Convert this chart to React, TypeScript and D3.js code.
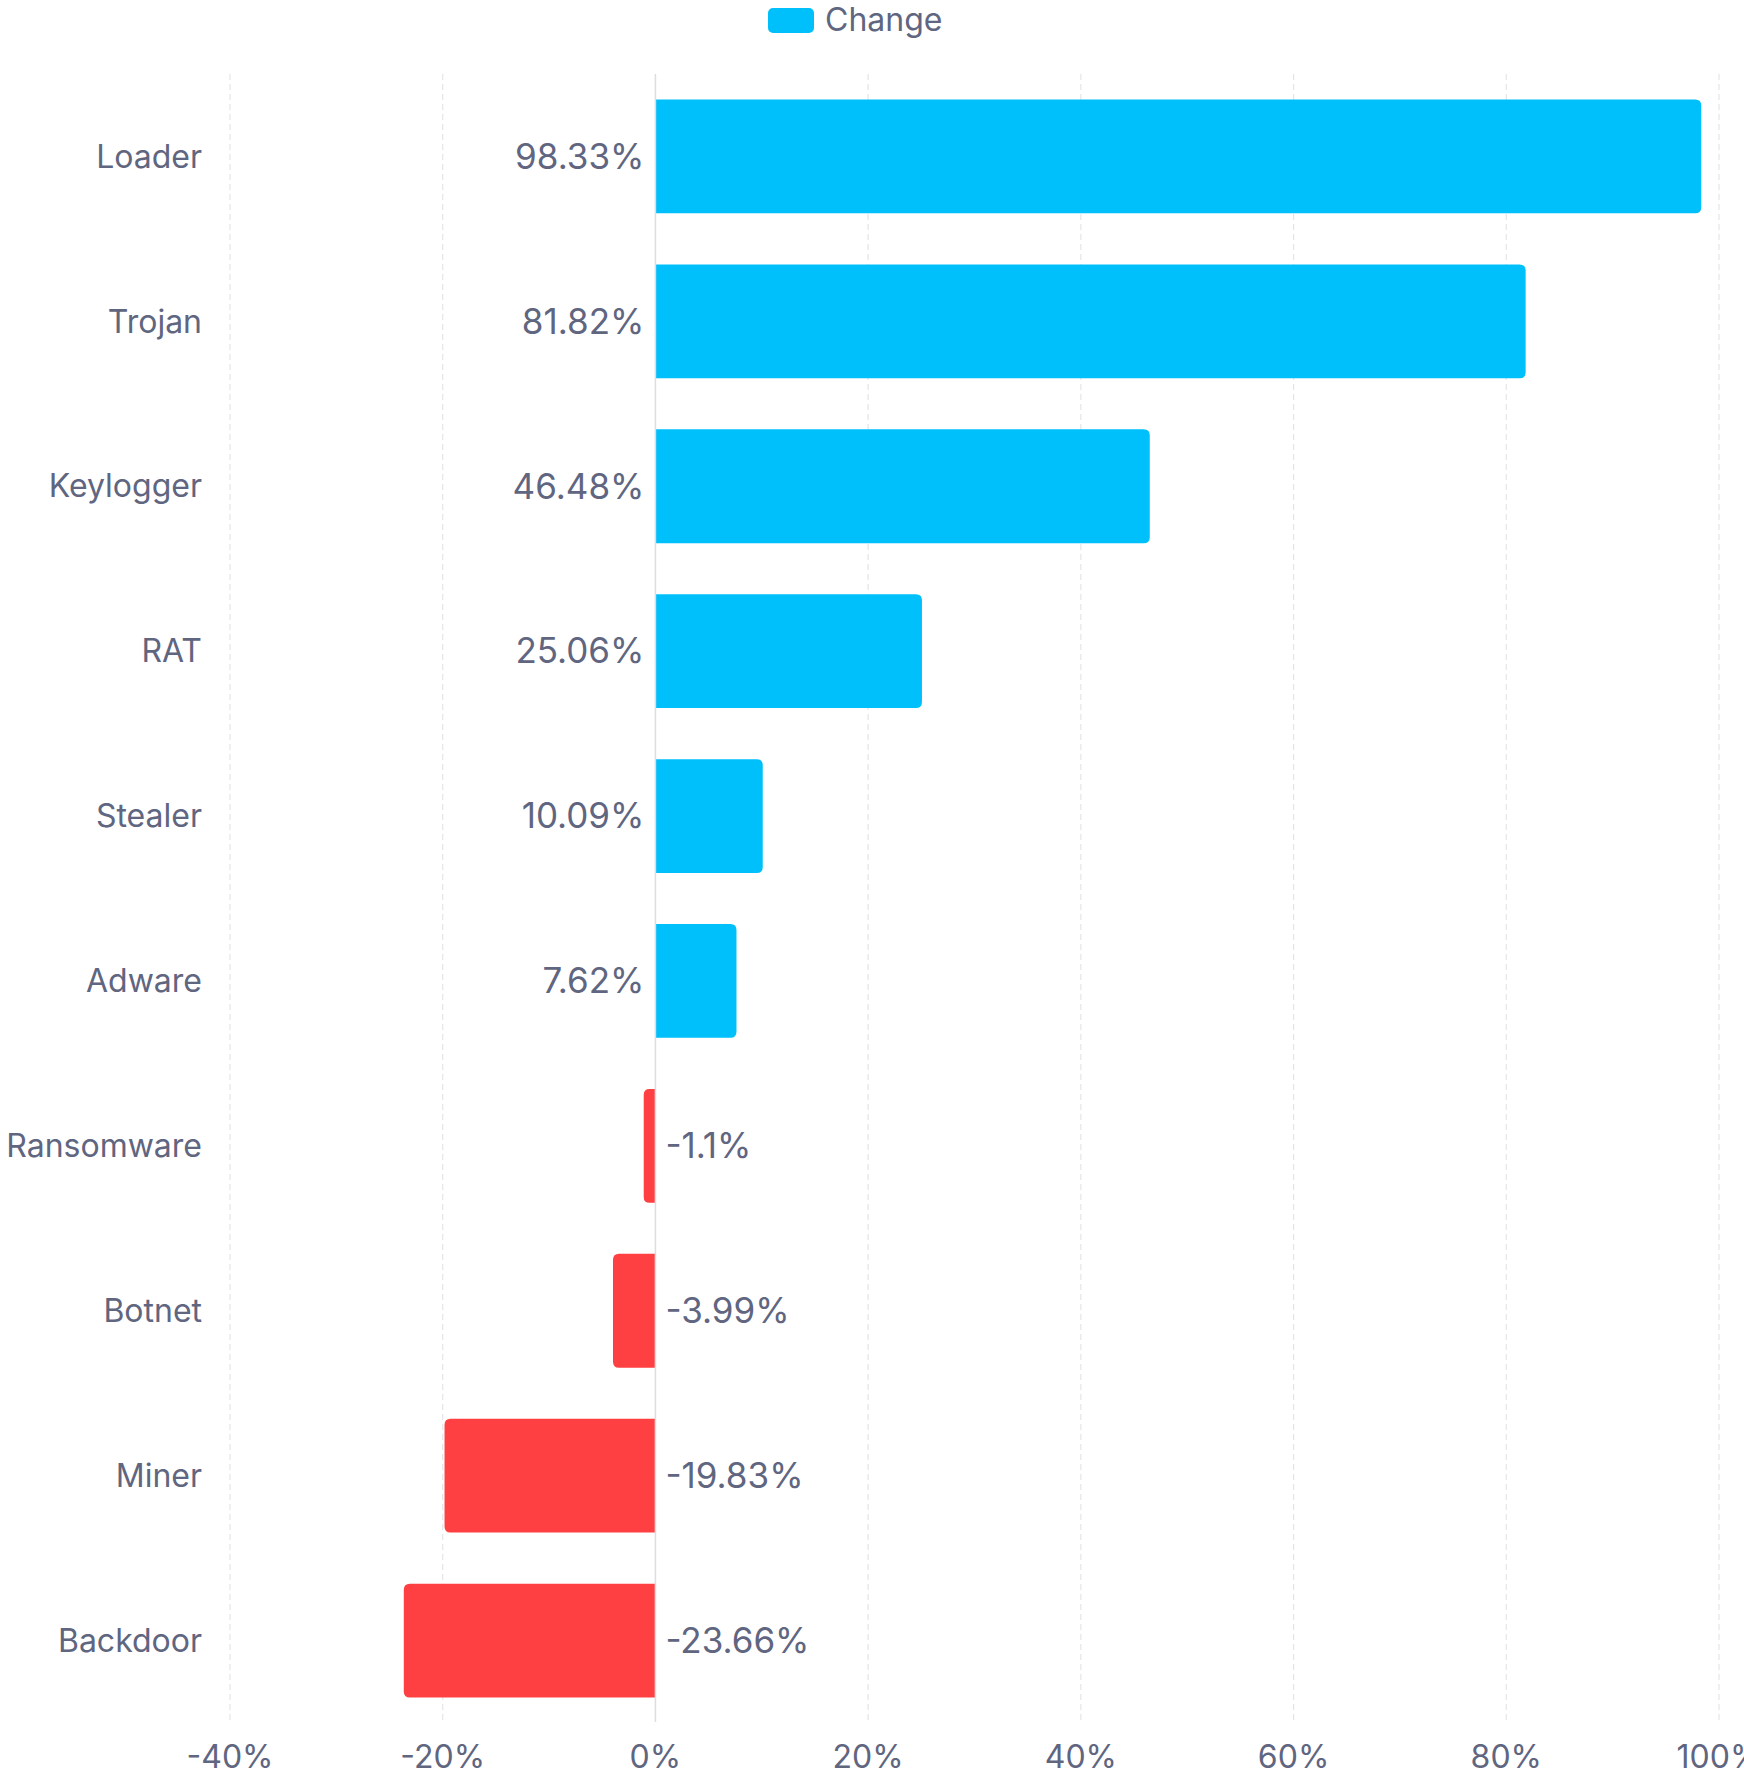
import React from "react";
import * as d3 from "d3";

const categories = ["Loader", "Trojan", "Keylogger", "RAT", "Stealer", "Adware", "Ransomware", "Botnet", "Miner", "Backdoor"];
const changeValues = [98.33, 81.82, 46.48, 25.06, 10.09, 7.62, -1.1, -3.99, -19.83, -23.66];
const xTicks = [-40, -20, 0, 20, 40, 60, 80, 100];
const seriesName = "Change";

const W = 1744;
const H = 1777;
const FONT = "Inter, 'Noto Sans', sans-serif";
const POS = "#00c0fc";
const NEG = "#fe4042";
const TEXT = "#606580";

function barPath(x0: number, x1: number, y: number, h: number, r: number) {
  // rounded on the outer end only
  if (x1 >= x0) {
    const w = x1 - x0;
    const rr = Math.min(r, w / 2, h / 2);
    return `M${x0},${y}H${x1 - rr}Q${x1},${y} ${x1},${y + rr}V${y + h - rr}Q${x1},${y + h} ${x1 - rr},${y + h}H${x0}Z`;
  } else {
    const w = x0 - x1;
    const rr = Math.min(r, w / 2, h / 2);
    return `M${x0},${y}H${x1 + rr}Q${x1},${y} ${x1},${y + rr}V${y + h - rr}Q${x1},${y + h} ${x1 + rr},${y + h}H${x0}Z`;
  }
}

export default function App() {
  const x = d3.scaleLinear().domain([-40, 100]).range([230, 1719]);
  const y = d3
    .scaleBand<string>()
    .domain(categories)
    .range([74, 1723])
    .paddingInner(0.31)
    .paddingOuter(0.155);
  const x0 = x(0);
  const bw = y.bandwidth();

  return (
    <svg
      width={W}
      height={H}
      style={{ position: "absolute", left: 0, top: 0, background: "#fff" }}
      fontFamily={FONT}
    >
      {/* legend */}
      <rect x={768} y={8} width={46} height={25} rx={5} fill={POS} />
      <text x={825} y={20} dy="0.35em" fontSize={32} fill={TEXT}>
        {seriesName}
      </text>

      {/* gridlines */}
      {xTicks.map((t) =>
        t === 0 ? null : (
          <line
            key={"g" + t}
            x1={x(t)}
            x2={x(t)}
            y1={74}
            y2={1722}
            stroke="#e4e4ea"
            strokeWidth={1.2}
            strokeDasharray="6 4"
          />
        )
      )}

      {/* bars */}
      {categories.map((c, i) => {
        const v = changeValues[i];
        const yy = y(c)!;
        return (
          <path key={"b" + c} d={barPath(x0, x(v), yy, bw, 6)} fill={v >= 0 ? POS : NEG} />
        );
      })}

      {/* zero line */}
      <line x1={x0} x2={x0} y1={74} y2={1722} stroke="#dcdce6" strokeWidth={1.5} />

      {/* category labels */}
      {categories.map((c) => (
        <text
          key={"c" + c}
          x={202}
          y={y(c)! + bw / 2}
          dy="0.35em"
          textAnchor="end"
          fontSize={32}
          fill={TEXT}
        >
          {c}
        </text>
      ))}

      {/* value labels */}
      {categories.map((c, i) => {
        const v = changeValues[i];
        return (
          <text
            key={"v" + c}
            x={v >= 0 ? x0 - 11 : x0 + 10}
            y={y(c)! + bw / 2}
            dy="0.35em"
            textAnchor={v >= 0 ? "end" : "start"}
            fontSize={35}
            fill={TEXT}
          >
            {v + "%"}
          </text>
        );
      })}

      {/* x axis labels */}
      {xTicks.map((t) => (
        <text
          key={"t" + t}
          x={x(t)}
          y={1757}
          dy="0.35em"
          textAnchor="middle"
          fontSize={32}
          fill={TEXT}
        >
          {t + "%"}
        </text>
      ))}
    </svg>
  );
}
